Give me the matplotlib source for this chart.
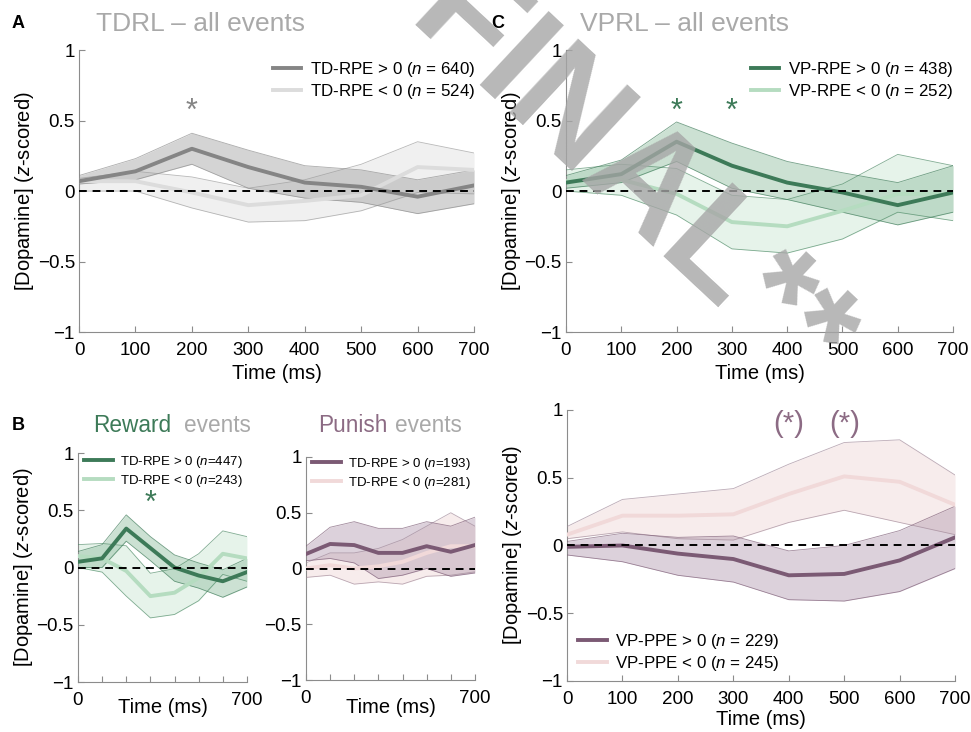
import numpy as np
import matplotlib
matplotlib.use("Agg")
import matplotlib.pyplot as plt

plt.rcParams['font.family'] = ['Liberation Sans', 'DejaVu Sans']
plt.rcParams['mathtext.fontset'] = 'custom'
plt.rcParams['mathtext.it'] = 'Liberation Sans:italic'
plt.rcParams['mathtext.rm'] = 'Liberation Sans'

t = [0, 100, 200, 300, 400, 500, 600, 700]

# A: TDRL all events
a_pos = [0.07, 0.14, 0.30, 0.17, 0.06, 0.03, -0.04, 0.04]
a_pos_hi = [0.11, 0.23, 0.41, 0.29, 0.18, 0.15, 0.08, 0.15]
a_pos_lo = [0.05, 0.08, 0.19, 0.02, -0.05, -0.08, -0.16, -0.09]
a_neg = [0.07, 0.07, -0.01, -0.10, -0.07, -0.03, 0.17, 0.15]
a_neg_hi = [0.09, 0.14, 0.10, 0.02, 0.08, 0.19, 0.35, 0.27]
a_neg_lo = [0.00, 0.00, -0.12, -0.22, -0.21, -0.14, -0.01, -0.02]

# C: VPRL all events
c_pos = [0.06, 0.12, 0.35, 0.18, 0.06, -0.01, -0.10, -0.01]
c_pos_hi = [0.11, 0.22, 0.49, 0.34, 0.21, 0.13, 0.06, 0.18]
c_pos_lo = [0.02, 0.06, 0.21, 0.02, -0.06, -0.15, -0.24, -0.15]
c_neg = [0.07, 0.08, -0.02, -0.22, -0.25, -0.14, -0.02, -0.02]
c_neg_hi = [0.15, 0.19, 0.16, -0.03, -0.06, 0.05, 0.26, 0.18]
c_neg_lo = [0.00, -0.03, -0.17, -0.41, -0.44, -0.34, -0.15, -0.21]

# B: reward events
r_pos = [0.05, 0.08, 0.34, 0.17, 0.00, -0.07, -0.12, -0.04]
r_pos_hi = [0.14, 0.20, 0.46, 0.27, 0.11, 0.04, -0.02, 0.08]
r_pos_lo = [0.00, 0.00, 0.23, 0.06, -0.12, -0.18, -0.26, -0.17]
r_neg = [0.10, 0.08, -0.03, -0.25, -0.22, -0.09, 0.12, 0.08]
r_neg_hi = [0.20, 0.21, 0.19, -0.05, -0.01, 0.12, 0.32, 0.27]
r_neg_lo = [0.00, -0.04, -0.25, -0.44, -0.41, -0.29, -0.06, -0.12]

# B: punish events
p_pos = [0.13, 0.22, 0.21, 0.14, 0.14, 0.20, 0.15, 0.21]
p_pos_hi = [0.20, 0.37, 0.42, 0.36, 0.36, 0.42, 0.38, 0.46]
p_pos_lo = [0.07, 0.09, 0.05, -0.09, -0.06, 0.00, -0.07, -0.04]
p_neg = [0.00, 0.03, 0.00, 0.02, 0.06, 0.14, 0.20, 0.20]
p_neg_hi = [0.05, 0.14, 0.14, 0.18, 0.26, 0.38, 0.50, 0.38]
p_neg_lo = [-0.08, -0.06, -0.14, -0.12, -0.14, -0.07, -0.06, -0.03]

# D: VP-PPE
d_pos = [-0.01, 0.00, -0.06, -0.10, -0.22, -0.21, -0.11, 0.06]
d_pos_hi = [0.03, 0.09, 0.06, 0.07, -0.04, 0.00, 0.11, 0.29]
d_pos_lo = [-0.07, -0.12, -0.22, -0.27, -0.40, -0.41, -0.34, -0.17]
d_neg = [0.08, 0.22, 0.22, 0.23, 0.38, 0.51, 0.47, 0.30]
d_neg_hi = [0.14, 0.34, 0.38, 0.42, 0.60, 0.76, 0.78, 0.52]
d_neg_lo = [0.05, 0.10, 0.05, 0.04, 0.17, 0.26, 0.17, 0.08]

GRAY_D, GRAY_L = '#858585', '#dcdcdc'
GREEN_D, GREEN_L = '#3d7a58', '#b5dcc0'
PURP_D, PURP_L = '#7b5a74', '#f1d9d9'
TITLE_GRAY = '#a9a9a9'
W, H = 971, 732


def fx(px):
    return px / W


def fy(py):
    return 1 - py / H


def style_axes(ax, short_x=False):
    ax.set_xlim(0, 700)
    ax.set_ylim(-1, 1)
    for s in ['top', 'right']:
        ax.spines[s].set_visible(False)
    for s in ['left', 'bottom']:
        ax.spines[s].set_color('#8c8c8c')
        ax.spines[s].set_linewidth(0.8)
    ax.set_yticks([-1, -0.5, 0, 0.5, 1])
    ax.set_yticklabels(['\u22121', '\u22120.5', '0', '0.5', '1'])
    ax.set_xticks(t)
    if short_x:
        ax.set_xticklabels(['0', '', '', '', '', '', '', '700'])
    ax.tick_params(direction='in', length=4, color='#8c8c8c', labelsize=13.5)
    ax.tick_params(axis='x', pad=7)
    ax.tick_params(axis='y', pad=3)
    ax.axhline(0, color='black', ls=(0, (4, 3)), lw=1.4, zorder=5)


def band(ax, y, lo, hi, col, fill, edge, alpha, label):
    ax.fill_between(t, lo, hi, color=fill, alpha=alpha, lw=0, zorder=2)
    ax.plot(t, lo, color=edge, lw=0.6, alpha=0.7, zorder=3)
    ax.plot(t, hi, color=edge, lw=0.6, alpha=0.7, zorder=3)
    ax.plot(t, y, color=col, lw=2.8, zorder=4, label=label)


def put_legend(ax, loc, x, y, size, hl):
    h, l = ax.get_legend_handles_labels()
    ax.legend(h[::-1], l[::-1], loc=loc, bbox_to_anchor=(fx(x), fy(y)),
              bbox_transform=fig.transFigure, frameon=False, fontsize=size,
              handlelength=hl, labelspacing=0.2, borderpad=0, borderaxespad=0,
              handletextpad=0.5)


fig = plt.figure(figsize=(9.71, 7.32), dpi=100)

# A
axA = fig.add_axes([0.0814, 0.5464, 0.4068, 0.3852])
band(axA, a_neg, a_neg_lo, a_neg_hi, GRAY_L, '#e6e6e6', '#9a9a9a', 0.6,
     r'TD-RPE < 0 ($n$ = 524)')
band(axA, a_pos, a_pos_lo, a_pos_hi, GRAY_D, '#a0a0a0', '#8a8a8a', 0.45,
     r'TD-RPE > 0 ($n$ = 640)')
style_axes(axA)
axA.set_ylabel(r'[Dopamine] ($z$-scored)', fontsize=14.5, labelpad=1)
axA.set_xlabel('Time (ms)', fontsize=14.5, labelpad=4)
put_legend(axA, 'upper right', 475, 60, 12.2, 1.7)
axA.text(200, 0.56, '*', color=GRAY_D, fontsize=22, ha='center', va='center')
fig.text(fx(12), fy(24), 'A', fontsize=13, fontweight='bold', va='center')
fig.text(fx(96), fy(24), 'TDRL \u2013 all events', fontsize=19, color=TITLE_GRAY, va='center')

# C
axC = fig.add_axes([0.5829, 0.5464, 0.3986, 0.3852])
band(axC, c_neg, c_neg_lo, c_neg_hi, GREEN_L, '#cfe8d6', '#4d8a66', 0.5,
     r'VP-RPE < 0 ($n$ = 252)')
band(axC, c_pos, c_pos_lo, c_pos_hi, GREEN_D, '#8fbd9f', '#3d7a58', 0.45,
     r'VP-RPE > 0 ($n$ = 438)')
style_axes(axC)
axC.set_ylabel(r'[Dopamine] ($z$-scored)', fontsize=14.5, labelpad=1)
axC.set_xlabel('Time (ms)', fontsize=14.5, labelpad=4)
put_legend(axC, 'upper right', 953, 60, 12.2, 1.7)
for x in [200, 300]:
    axC.text(x, 0.56, '*', color=GREEN_D, fontsize=22, ha='center', va='center')
fig.text(fx(491), fy(24), 'C', fontsize=13, fontweight='bold', va='center')
fig.text(fx(580), fy(24), 'VPRL \u2013 all events', fontsize=19, color=TITLE_GRAY, va='center')

# B reward
axR = fig.add_axes([0.0803, 0.0683, 0.174, 0.3128])
band(axR, r_neg, r_neg_lo, r_neg_hi, GREEN_L, '#cfe8d6', '#4d8a66', 0.5,
     r'TD-RPE < 0 ($n$=243)')
band(axR, r_pos, r_pos_lo, r_pos_hi, GREEN_D, '#8fbd9f', '#3d7a58', 0.45,
     r'TD-RPE > 0 ($n$=447)')
style_axes(axR, short_x=True)
axR.set_ylabel(r'[Dopamine] ($z$-scored)', fontsize=14.5, labelpad=1)
axR.set_xlabel('Time (ms)', fontsize=14.5)
axR.xaxis.set_label_coords(0.5, -0.07)
put_legend(axR, 'upper left', 84, 454, 9.5, 2.2)
axR.text(300, 0.56, '*', color=GREEN_D, fontsize=22, ha='center', va='center')
fig.text(fx(12), fy(426), 'B', fontsize=13, fontweight='bold', va='center')
fig.text(fx(93), fy(426), 'Reward', fontsize=16.3, color=GREEN_D, va='center')
fig.text(fx(184), fy(426), 'events', fontsize=16.3, color=TITLE_GRAY, va='center')

# B punish
axP = fig.add_axes([0.3151, 0.071, 0.174, 0.3047])
band(axP, p_neg, p_neg_lo, p_neg_hi, PURP_L, '#f2e0e0', '#a08898', 0.6,
     r'TD-RPE < 0 ($n$=281)')
band(axP, p_pos, p_pos_lo, p_pos_hi, PURP_D, '#b39bb0', '#7b5a74', 0.45,
     r'TD-RPE > 0 ($n$=193)')
style_axes(axP, short_x=True)
axP.set_xlabel('Time (ms)', fontsize=14.5)
axP.xaxis.set_label_coords(0.5, -0.08)
put_legend(axP, 'upper left', 312, 456, 9.5, 2.2)
fig.text(fx(318), fy(426), 'Punish', fontsize=16.3, color='#8c6b84', va='center')
fig.text(fx(395), fy(426), 'events', fontsize=16.3, color=TITLE_GRAY, va='center')

# D
axD = fig.add_axes([0.584, 0.0697, 0.3996, 0.3702])
band(axD, d_neg, d_neg_lo, d_neg_hi, PURP_L, '#f2e0e0', '#a08898', 0.6,
     r'VP-PPE < 0 ($n$ = 245)')
band(axD, d_pos, d_pos_lo, d_pos_hi, PURP_D, '#b39bb0', '#7b5a74', 0.45,
     r'VP-PPE > 0 ($n$ = 229)')
style_axes(axD)
axD.set_ylabel(r'[Dopamine] ($z$-scored)', fontsize=14.5, labelpad=1)
axD.set_xlabel('Time (ms)', fontsize=14.5, labelpad=2)
put_legend(axD, 'upper left', 578, 632, 12.2, 1.7)
for x in [400, 500]:
    axD.text(x, 0.9, '(*)', color='#8c6b84', fontsize=21, ha='center', va='center')

# watermark
fig.text(0.648, 0.752, 'FINAL**', fontsize=105, color='#a6a6a6', alpha=0.8,
         fontweight='bold', rotation=-43, ha='center', va='center', zorder=10)

fig.savefig('out.png', dpi=100)
